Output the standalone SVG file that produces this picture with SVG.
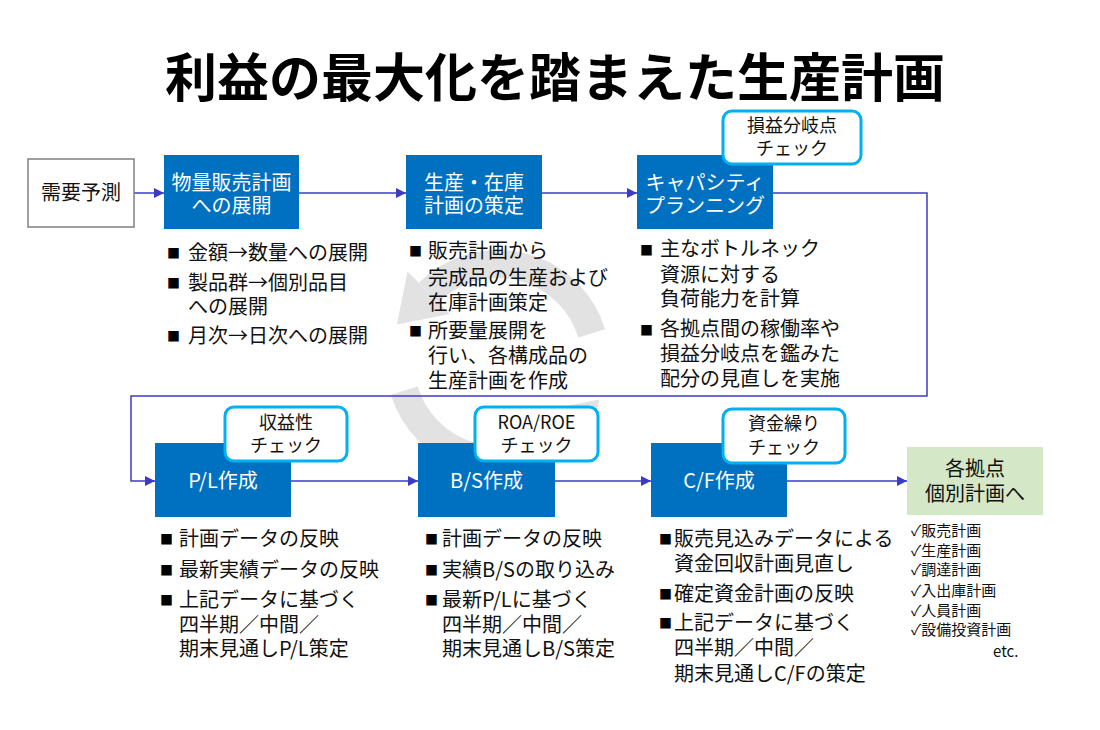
<svg xmlns="http://www.w3.org/2000/svg" width="1100" height="730" viewBox="0 0 1100 730">
<defs>
<marker id="ah" viewBox="0 0 10 10" refX="10" refY="5" markerWidth="10" markerHeight="10" markerUnits="userSpaceOnUse" orient="auto">
<path d="M0,0 L10,5 L0,10 z" fill="#3B3BC8"/>
</marker>
<style>
text{font-family:"Noto Sans CJK JP","Noto Sans",sans-serif;}
.title{font-size:52px;font-weight:700;fill:#000;}
.blue{fill:#0070C0;}
.wt{fill:#fff;font-size:20px;text-anchor:middle;}
.bt{fill:#111;font-size:20px;text-anchor:middle;}
.call{fill:#fff;stroke:#00B0F0;stroke-width:3;}
.ct{fill:#111;font-size:18px;text-anchor:middle;}
.bl{fill:#111;font-size:20px;}
.bu{fill:#000;font-size:13px;}
.ck{fill:#111;font-size:15px;}
.conn{fill:none;stroke:#3B3BC8;stroke-width:1.5;}
.cyc{fill:none;stroke:#E2E2E2;stroke-width:28;}
.cyh{fill:#E2E2E2;}
</style>
</defs>
<rect width="1100" height="730" fill="#fff"/>
<g id="cycle-bg">
<path class="cyc" d="M 591.7 333.3 A 98 98 0 0 0 428.7 292.7"/>
<polygon class="cyh" points="407.5,271.5 449.9,313.9 396.9,324.5"/>
<path class="cyc" d="M 404.3 390.7 A 98 98 0 0 0 567.3 431.3"/>
<polygon class="cyh" points="588.5,452.5 546.1,410.1 599.1,399.5"/>
</g>
<text class="title" x="555" y="97" text-anchor="middle">利益の最大化を踏まえた生産計画</text>
<g id="connectors">
<line class="conn" x1="134" y1="193" x2="164" y2="193" marker-end="url(#ah)"/>
<line class="conn" x1="299" y1="193" x2="406" y2="193" marker-end="url(#ah)"/>
<line class="conn" x1="542" y1="193" x2="637" y2="193" marker-end="url(#ah)"/>
<polyline class="conn" points="773,193 927,193 927,396 131,396 131,481 155,481" marker-end="url(#ah)"/>
<line class="conn" x1="291" y1="481" x2="418" y2="481" marker-end="url(#ah)"/>
<line class="conn" x1="555" y1="481" x2="651" y2="481" marker-end="url(#ah)"/>
<line class="conn" x1="787" y1="481" x2="907" y2="481" marker-end="url(#ah)"/>
</g>
<g id="demand">
<rect x="28" y="159" width="106" height="68" fill="#fff" stroke="#7F7F7F" stroke-width="1.5"/>
<text class="bt" x="81" y="200">需要予測</text>
</g>
<g id="n1">
<rect class="blue" x="164" y="155" width="135" height="74"/>
<text class="wt"><tspan x="231.5" y="190">物量販売計画</tspan><tspan x="231.5" y="213">への展開</tspan></text>
</g>
<g id="n2">
<rect class="blue" x="406" y="155" width="136" height="74"/>
<text class="wt"><tspan x="474" y="190">生産・在庫</tspan><tspan x="474" y="213">計画の策定</tspan></text>
</g>
<g id="n3">
<rect class="blue" x="637" y="155" width="136" height="74"/>
<text class="wt"><tspan x="705" y="190">キャパシティ</tspan><tspan x="705" y="213">プランニング</tspan></text>
</g>
<g id="c1">
<rect class="call" x="723" y="111" width="138" height="53" rx="9"/>
<text class="ct"><tspan x="792" y="132">損益分岐点</tspan><tspan x="792" y="155">チェック</tspan></text>
</g>
<g id="t1">
<text class="bu" x="167" y="258">■</text><text class="bl" x="188" y="259.6">金額→数量への展開</text>
<text class="bu" x="167" y="288">■</text><text class="bl"><tspan x="188" y="289.6">製品群→個別品目</tspan><tspan x="188" y="313.6">への展開</tspan></text>
<text class="bu" x="167" y="341">■</text><text class="bl" x="188" y="342.6">月次→日次への展開</text>
</g>
<g id="t2">
<text class="bu" x="409" y="256">■</text><text class="bl"><tspan x="428" y="257.6">販売計画から</tspan><tspan x="428" y="284.6">完成品の生産および</tspan><tspan x="428" y="309.6">在庫計画策定</tspan></text>
<text class="bu" x="409" y="336">■</text><text class="bl"><tspan x="428" y="337.6">所要量展開を</tspan><tspan x="428" y="362.6">行い、各構成品の</tspan><tspan x="428" y="387.6">生産計画を作成</tspan></text>
</g>
<g id="t3">
<text class="bu" x="640" y="255">■</text><text class="bl"><tspan x="660" y="256">主なボトルネック</tspan><tspan x="660" y="282">資源に対する</tspan><tspan x="660" y="306">負荷能力を計算</tspan></text>
<text class="bu" x="640" y="335">■</text><text class="bl"><tspan x="660" y="336">各拠点間の稼働率や</tspan><tspan x="660" y="361">損益分岐点を鑑みた</tspan><tspan x="660" y="386">配分の見直しを実施</tspan></text>
</g>
<g id="n4">
<rect class="blue" x="155" y="443" width="136" height="74"/>
<text class="wt" x="223" y="488">P/L作成</text>
</g>
<g id="c2">
<rect class="call" x="225" y="407" width="122" height="54" rx="9"/>
<text class="ct"><tspan x="286" y="429">収益性</tspan><tspan x="286" y="452">チェック</tspan></text>
</g>
<g id="n5">
<rect class="blue" x="418" y="443" width="137" height="74"/>
<text class="wt" x="486.5" y="488">B/S作成</text>
</g>
<g id="c3">
<rect class="call" x="475" y="407" width="123" height="54" rx="9"/>
<text class="ct"><tspan x="536.5" y="429">ROA/ROE</tspan><tspan x="536.5" y="452">チェック</tspan></text>
</g>
<g id="n6">
<rect class="blue" x="651" y="443" width="136" height="74"/>
<text class="wt" x="719" y="488">C/F作成</text>
</g>
<g id="c4">
<rect class="call" x="723" y="409" width="122" height="54" rx="9"/>
<text class="ct"><tspan x="784" y="430">資金繰り</tspan><tspan x="784" y="454">チェック</tspan></text>
</g>
<g id="n7">
<rect x="907" y="447" width="136" height="68" fill="#D4E7C6"/>
<text class="bt"><tspan x="975" y="475.5">各拠点</tspan><tspan x="975" y="500.5">個別計画へ</tspan></text>
</g>
<g id="t4">
<text class="bu" x="160" y="544">■</text><text class="bl" x="179" y="545.6">計画データの反映</text>
<text class="bu" x="160" y="575">■</text><text class="bl" x="179" y="576.6">最新実績データの反映</text>
<text class="bu" x="160" y="605">■</text><text class="bl"><tspan x="179" y="606.6">上記データに基づく</tspan><tspan x="179" y="631.6">四半期／中間／</tspan><tspan x="179" y="655.6">期末見通しP/L策定</tspan></text>
</g>
<g id="t5">
<text class="bu" x="425" y="544">■</text><text class="bl" x="442" y="545.6">計画データの反映</text>
<text class="bu" x="425" y="575">■</text><text class="bl" x="442" y="576.6">実績B/Sの取り込み</text>
<text class="bu" x="425" y="605">■</text><text class="bl"><tspan x="442" y="606.6">最新P/Lに基づく</tspan><tspan x="442" y="631.6">四半期／中間／</tspan><tspan x="442" y="655.6">期末見通しB/S策定</tspan></text>
</g>
<g id="t6">
<text class="bu" x="659" y="544">■</text><text class="bl"><tspan x="674" y="545.6">販売見込みデータによる</tspan><tspan x="674" y="570.6">資金回収計画見直し</tspan></text>
<text class="bu" x="659" y="599">■</text><text class="bl" x="674" y="600.6">確定資金計画の反映</text>
<text class="bu" x="659" y="628">■</text><text class="bl"><tspan x="674" y="629.6">上記データに基づく</tspan><tspan x="674" y="654.6">四半期／中間／</tspan><tspan x="674" y="680.6">期末見通しC/Fの策定</tspan></text>
</g>
<g id="t7">
<text class="ck"><tspan x="911" y="535.7">✓販売計画</tspan><tspan x="911" y="555.7">✓生産計画</tspan><tspan x="911" y="574.7">✓調達計画</tspan><tspan x="911" y="595.7">✓入出庫計画</tspan><tspan x="911" y="615.7">✓人員計画</tspan><tspan x="911" y="634.7">✓設備投資計画</tspan><tspan x="993" y="657">etc.</tspan></text>
</g>
</svg>
